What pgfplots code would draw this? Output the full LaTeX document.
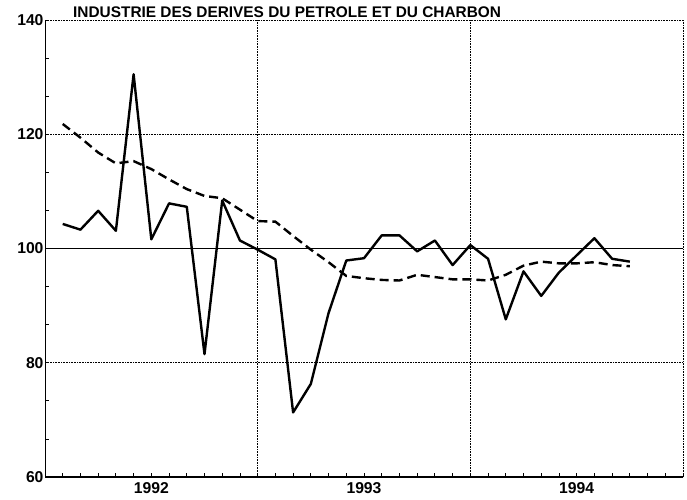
\documentclass[border=0pt]{standalone}
\usepackage{fontspec}
\setmainfont{Liberation Sans}
\usepackage{pgfplots}
\usepackage{pgfplotstable}
\pgfplotsset{compat=1.18}

% monthly index, raw series, trend
\pgfplotstableread{
m ind tend
1 104.3 121.8
2 103.3 119.4
3 106.6 116.8
4 103.1 114.9
5 130.5 115.3
6 101.6 113.9
7 107.9 112.1
8 107.3 110.4
9 81.5 109.2
10 108.4 108.8
11 101.4 106.8
12 99.8 104.8
13 98.1 104.7
14 71.3 102.2
15 76.3 99.8
16 88.7 97.6
17 97.9 95.2
18 98.3 94.8
19 102.3 94.5
20 102.3 94.4
21 99.5 95.4
22 101.4 95.0
23 97.1 94.6
24 100.6 94.6
25 98.2 94.4
26 87.6 95.4
27 96.0 97.0
28 91.7 97.7
29 95.8 97.4
30 98.8 97.4
31 101.8 97.6
32 98.2 97.1
33 97.7 96.9
}\petrole

\begin{document}
\begin{tikzpicture}
\begin{axis}[
 scale only axis, width=638pt, height=457pt,
 xmin=0, xmax=36, ymin=60, ymax=140,
 axis line style={draw=none},
 tick pos=left, tick align=inside,
 major tick length=4pt, minor tick length=4pt,
 tick style={black, line width=0.8pt},
 xtick={12,24,36}, xticklabels={,,},
 minor xtick={1,...,35},
 extra x ticks={6,18,30}, extra x tick labels={1992,1993,1994},
 extra x tick style={major tick length=0pt, grid=none},
 ytick={60,80,120,140},
 extra y ticks={100},
 extra y tick style={major grid style={solid, black, line width=1pt}},
 minor ytick={66.67,73.33,86.67,93.33,106.67,113.33,126.67,133.33},
 grid=major,
 major grid style={black, line width=0.8pt, dash pattern=on 0.8pt off 0.8pt},
 ticklabel style={font=\fontsize{15.7}{19}\selectfont\bfseries},
 /pgf/number format/assume math mode=true,
 xticklabel style={yshift=-2pt},
 yticklabel style={xshift=2pt},
 title={INDUSTRIE DES DERIVES DU PETROLE ET DU CHARBON},
 title style={at={(rel axis cs:0,1)}, anchor=south west, inner sep=0pt,
   xshift=28pt, yshift=-4pt, font=\fontsize{15.4}{18}\selectfont\bfseries},
]
\addplot[black, line width=2.4pt, line join=round] table[x=m, y=ind] {\petrole};
\addplot[black, line width=2.4pt, dash pattern=on 9pt off 5pt] table[x=m, y=tend] {\petrole};
\draw[black, line width=1.2pt] (rel axis cs:0,1) -- (rel axis cs:0,0) -- (rel axis cs:1,0);
\coordinate (ll) at (rel axis cs:0,0);
\end{axis}
\pgfresetboundingbox
\path (ll) ++(-45pt,-22pt) rectangle ([shift={(642pt,477pt)}]ll);
\end{tikzpicture}
\end{document}
